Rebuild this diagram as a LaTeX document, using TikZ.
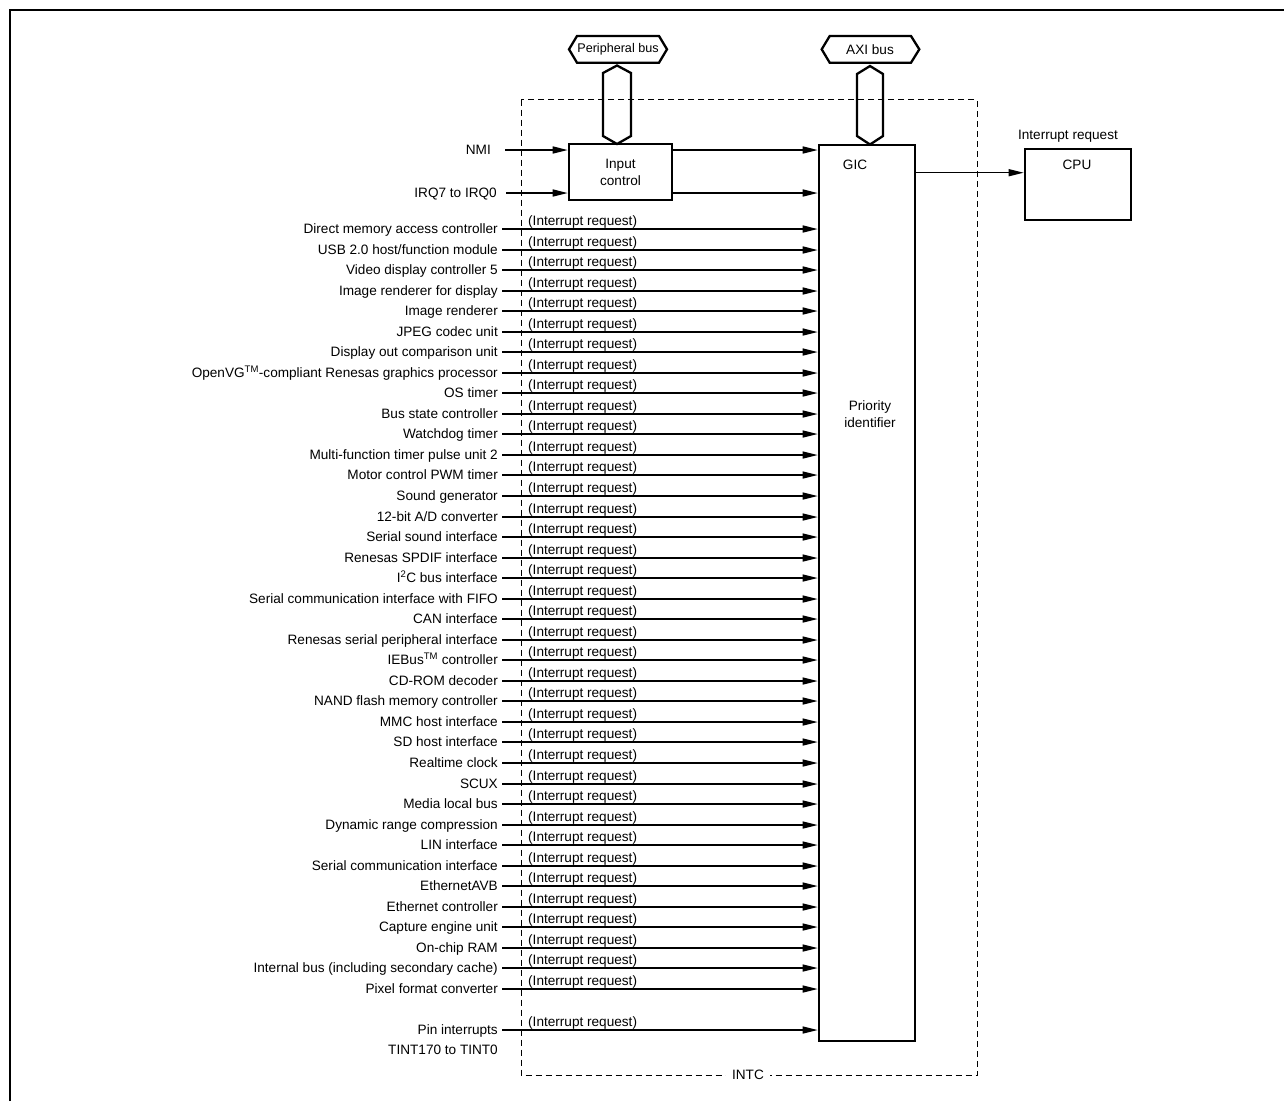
\documentclass[tikz,border=0pt]{standalone}
\usepackage{fontspec}
\setmainfont{Liberation Sans}
\usetikzlibrary{arrows.meta,calc}
\begin{document}
\begin{tikzpicture}[x=1pt,y=-1pt,
  every node/.style={font=\fontsize{13.6}{17}\selectfont, text=black},
  lab/.style={anchor=east, inner xsep=4pt, inner ysep=0pt, text height=9.7pt, text depth=0pt},
  irq/.style={anchor=base west, inner sep=0pt},
  arr/.style={line width=1.4pt, -{Triangle[length=15pt,width=7pt]}},
  blk/.style={draw, line width=2.6pt, inner sep=0pt},
  bus/.style={line width=2.3pt, line join=miter},
]
\useasboundingbox (0,0) rectangle (1284,1101);
\draw[line width=2.8pt] (10,1101) -- (10,10) -- (1284,10);

% INTC dashed frame
\draw[line width=1pt, dash pattern=on 6pt off 4pt] (521,99.5) rectangle (977,1075);
\node[fill=white, inner xsep=6pt] (intc) at (748,1075) {INTC};

% buses
\draw[bus] (569,49.3) -- (577,36) -- (659,36) -- (667,49.3) -- (659,62.7) -- (577,62.7) -- cycle;
\node (pb) at (618,49.3) {\fontsize{12.6}{14}\selectfont Peripheral bus};
\draw[bus] (617,65.5) -- (631,73) -- (631,136) -- (617,144) -- (603,136) -- (603,73) -- cycle;
\draw[bus] (821.7,49.3) -- (829.7,36) -- (911,36) -- (919.3,49.3) -- (911,62.7) -- (829.7,62.7) -- cycle;
\node (axi) at (870,49.3) {AXI bus};
\draw[bus] (870,66) -- (883,74) -- (883,136) -- (870,144.5) -- (857,136) -- (857,74) -- cycle;

% blocks
\node[blk, minimum width=103pt, minimum height=56pt, align=center] (in) at (620.5,172) {Input\\control};
\node[blk, minimum width=96pt, minimum height=896pt] (gic) at (867,593) {};
\node (gict) at (855,165) {GIC};
\node[align=center] (prio) at (870,414) {Priority\\identifier};
\node[blk, minimum width=106pt, minimum height=71pt] (cpu) at (1078,184.5) {};
\node (cput) at (1077,165) {CPU};
\node (irqt) at (1068,136) {Interrupt request};

% NMI / IRQ
\node[lab, inner xsep=14pt] (nmi) at (505,150) {NMI};
\node[lab, inner xsep=9pt] (irq) at (506,193) {IRQ7 to IRQ0};
\draw[arr] (nmi.east) -- (nmi.east -| in.west);
\draw[arr] (irq.east) -- (irq.east -| in.west);
\draw[arr] (in.east |- nmi.east) -- (gic.west |- nmi.east);
\draw[arr] (in.east |- irq.east) -- (gic.west |- irq.east);

% GIC to CPU
\coordinate (cpuin) at ($(cpu.west)+(0,-11.8)$);
\draw[arr] (gic.east |- cpuin) -- (cpuin);

% sources
\foreach \t [count=\i] in {
 Direct memory access controller,
 USB 2.0 host/function module,
 Video display controller 5,
 Image renderer for display,
 Image renderer,
 JPEG codec unit,
 Display out comparison unit,
 OpenVG\textsuperscript{TM}-compliant Renesas graphics processor,
 OS timer,
 Bus state controller,
 Watchdog timer,
 Multi-function timer pulse unit 2,
 Motor control PWM timer,
 Sound generator,
 12-bit A/D converter,
 Serial sound interface,
 Renesas SPDIF interface,
 I\textsuperscript{2}C bus interface,
 Serial communication interface with FIFO,
 CAN interface,
 Renesas serial peripheral interface,
 IEBus\textsuperscript{TM} controller,
 CD-ROM decoder,
 NAND flash memory controller,
 MMC host interface,
 SD host interface,
 Realtime clock,
 SCUX,
 Media local bus,
 Dynamic range compression,
 LIN interface,
 Serial communication interface,
 EthernetAVB,
 Ethernet controller,
 Capture engine unit,
 On-chip RAM,
 Internal bus (including secondary cache),
 Pixel format converter}
{
  \pgfmathsetmacro\yy{round(229+(\i-1)*20.54)}
  \node[lab] (s\i) at (502,\yy) {\t};
  \draw[arr] (s\i.east) -- (s\i.east -| gic.west);
  \node[irq] (r\i) at (528,\yy-3.5) {(Interrupt request)};
}

\node[lab] (pin) at (502,1030) {Pin interrupts};
\draw[arr] (pin.east) -- (pin.east -| gic.west);
\node[irq] (rpin) at (528,1026.5) {(Interrupt request)};
\node[lab] (tint) at (502,1050) {TINT170 to TINT0};
\end{tikzpicture}
\end{document}
